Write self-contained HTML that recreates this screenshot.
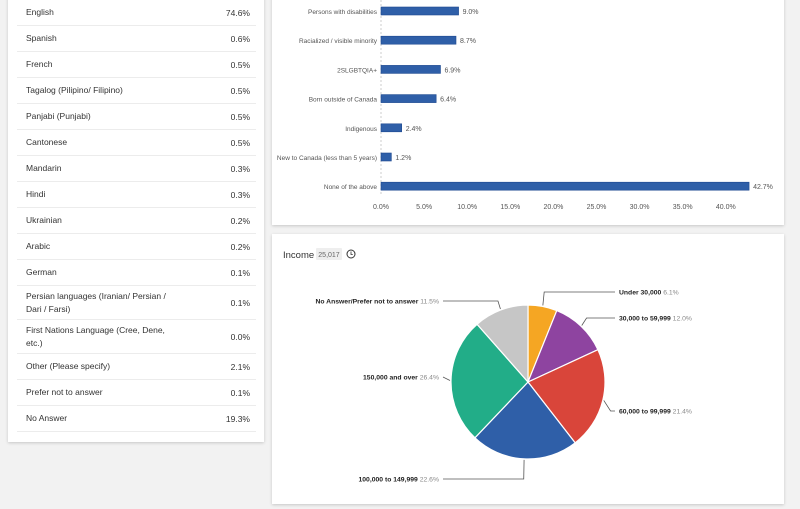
<!DOCTYPE html>
<html><head><meta charset="utf-8"><style>
body{margin:0;width:800px;height:494px;background:#f2f2f2;font-family:"Liberation Sans",sans-serif;position:relative;overflow:hidden}
.card{position:absolute;background:#fff;box-shadow:0 1px 3px rgba(0,0,0,.18)}
.row{position:absolute;left:9px;width:239px;border-bottom:1px solid #ececec;font-size:8.5px;color:#333;display:flex;align-items:center}
.row .l{position:absolute;left:9px;width:150px;line-height:13px}
.row .v{position:absolute;right:6px}
svg text{font-family:"Liberation Sans",sans-serif}
</style></head><body>
<div class="card" style="left:8px;top:-4px;width:256px;height:446px" id="lang"></div>
<div class="card" style="left:272px;top:-4px;width:512px;height:229px"><svg id="bar" width="512" height="229"></svg></div>
<div class="card" style="left:272px;top:234px;width:512px;height:270px"><svg id="pie" width="512" height="270"></svg></div>
<script>
const langNames=["English","Spanish","French","Tagalog (Pilipino/ Filipino)","Panjabi (Punjabi)","Cantonese","Mandarin","Hindi","Ukrainian","Arabic","German","Persian languages (Iranian/ Persian / Dari / Farsi)","First Nations Language (Cree, Dene, etc.)","Other (Please specify)","Prefer not to answer","No Answer"];
const langValues=["74.6%","0.6%","0.5%","0.5%","0.5%","0.5%","0.3%","0.3%","0.2%","0.2%","0.1%","0.1%","0.0%","2.1%","0.1%","19.3%"];
const barCats=["Persons with disabilities","Racialized / visible minority","2SLGBTQIA+","Born outside of Canada","Indigenous","New to Canada (less than 5 years)","None of the above"];
const barVals=[9.0,8.7,6.9,6.4,2.4,1.2,42.7];
const barTicks=[0,5,10,15,20,25,30,35,40];
const pieCats=["Under 30,000","30,000 to 59,999","60,000 to 99,999","100,000 to 149,999","150,000 and over","No Answer/Prefer not to answer"];
const pieVals=[6.1,12.0,21.4,22.6,26.4,11.5];
const pieColors=["#f5a623","#8e44a0","#d9453a","#2f5fa8","#22ad88","#c6c6c6"];

const lang=document.getElementById('lang');
let y=4;
langNames.forEach((n,i)=>{
  const h=n.length>32?34:26;
  const r=document.createElement('div');
  r.className='row';r.style.top=y+'px';r.style.height=(h-1)+'px';
  
  
  r.innerHTML='<span class="l">'+n+'</span><span class="v">'+langValues[i]+'</span>';
  lang.appendChild(r);y+=h;
});

const NS='http://www.w3.org/2000/svg';
function mk(p,t,a){const e=document.createElementNS(NS,t);for(const k in a)e.setAttribute(k,a[k]);p.appendChild(e);return e;}
const bar=document.getElementById('bar');
const x0=109,sx=43.1/5;
const xS=v=>x0+v*sx;
const yS=i=>15+i*29.2;
const ax=mk(bar,'line',{x1:x0,x2:x0,y1:0,y2:198,stroke:'#ccc','stroke-dasharray':'2,2'});

barCats.forEach((c,i)=>{
  const cy=yS(i);
  const t=mk(bar,'text',{x:x0-4,y:cy+3,'font-size':6.5,fill:'#555','text-anchor':'end'});t.textContent=c;
  
  const r=mk(bar,'rect',{x:x0,y:cy-4,width:xS(barVals[i])-x0,height:8,fill:'#2f5fa8',stroke:'#1f4a90','stroke-width':0.6});
  
  const v=mk(bar,'text',{x:xS(barVals[i])+4,y:cy+3,'font-size':7,fill:'#555'});v.textContent=barVals[i].toFixed(1)+'%';
  
});
barTicks.forEach(t=>{
  const e=mk(bar,'text',{x:xS(t),y:213,'font-size':7,fill:'#555','text-anchor':'middle'});e.textContent=t.toFixed(1)+'%';
  
});

const pie=document.getElementById('pie');
const tt=mk(pie,'text',{x:11,y:24,'font-size':9.5,fill:'#333'});tt.textContent='Income';

const br=mk(pie,'rect',{x:44,y:14,width:26,height:12,fill:'#eee',rx:1});

const bt=mk(pie,'text',{x:57,y:23,'font-size':7,fill:'#666','text-anchor':'middle'});bt.textContent='25,017';

const ic=mk(pie,'circle',{cx:79,cy:20,r:4,fill:'none',stroke:'#333','stroke-width':1});

mk(pie,'path',{d:'M79 17.5V20.5H80.8',fill:'none',stroke:'#333','stroke-width':0.8});
const cx=256,cy=148,R=77;
const total=pieVals.reduce((a,b)=>a+b,0);
let a=0;
const labelPos=[[347,58,'s'],[347,84,'s'],[347,177,'s'],[167,245,'e'],[167,143,'e'],[167,67,'e']];
pieVals.forEach((v,i)=>{
  const a0=a/total*2*Math.PI,a1=(a+v)/total*2*Math.PI;a+=v;
  const p=(t,r)=>[cx+r*Math.sin(t),cy-r*Math.cos(t)];
  const [x1,y1]=p(a0,R),[x2,y2]=p(a1,R);
  const s=mk(pie,'path',{d:`M${cx} ${cy}L${x1} ${y1}A${R} ${R} 0 ${a1-a0>Math.PI?1:0} 1 ${x2} ${y2}Z`,fill:pieColors[i],stroke:'#fff','stroke-width':1.2});
  
  const am=(a0+a1)/2;const [ex,ey]=p(am,R+1);const [kx,ky]=p(am,R+8);
  const [lx,ly,side]=labelPos[i];
  const right=side==='s';
  const endx=right?lx-4:lx+4;
  const ln=mk(pie,'polyline',{points:`${ex},${ey} ${kx},${ky} ${kx},${ly} ${endx},${ly}`,fill:'none',stroke:'#555','stroke-width':0.8});
  if(Math.abs(ky-ly)>20 && i===3){ln.setAttribute('points',`${ex},${ey} ${ex},${ly} ${endx},${ly}`);}
  else ln.setAttribute('points',`${ex},${ey} ${kx},${ly} ${endx},${ly}`);
  
  const t=mk(pie,'text',{x:lx,y:ly+2.5,'font-size':6.8,fill:'#222','text-anchor':right?'start':'end'});
  t.innerHTML='<tspan font-weight="bold">'+pieCats[i]+'</tspan><tspan fill="#888"> '+v.toFixed(1)+'%</tspan>';
  
});
</script>
</body></html>
